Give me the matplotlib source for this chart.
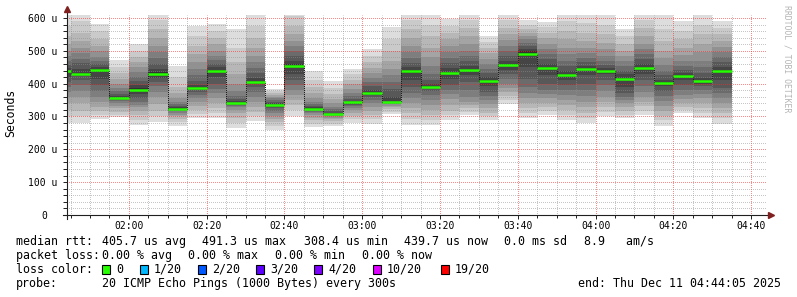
import matplotlib
matplotlib.use("Agg")
import matplotlib.pyplot as plt
import matplotlib.transforms as mtransforms
from matplotlib.patches import Rectangle

W, H = 797, 297
MONO = "DejaVu Sans Mono"

# ---- data -----------------------------------------------------------
# 5 minute slots, first one starts 01:40 (only its tail is visible)
slot_first = "01:40"
slot_len = 5
view_start = "01:44:05"
view_hours = 3

# median rtt per slot (micro seconds)
medians = [437, 430, 441, 356, 382, 430, 324, 387, 438, 341, 406, 335, 455,
           324, 308, 343, 373, 343, 437, 391, 432, 443, 407, 457, 491, 448,
           427, 445, 439, 414, 448, 402, 424, 407, 439]

# the 20 sorted pings of each slot (micro seconds), estimated from the smoke
pings = [
    [280, 300, 320, 340, 360, 375, 390, 405, 420, 434, 440, 448, 458, 470, 485, 500, 520, 545, 575, 610],
    [280, 300, 318, 340, 360, 378, 395, 412, 422, 428, 432, 445, 462, 475, 492, 510, 530, 555, 590, 640],
    [293, 305, 318, 330, 345, 360, 378, 395, 415, 436, 446, 452, 460, 470, 482, 498, 515, 535, 560, 583],
    [297, 305, 315, 325, 333, 340, 346, 350, 353, 355, 357, 362, 368, 378, 388, 400, 415, 432, 450, 473],
    [275, 290, 305, 318, 328, 336, 345, 355, 368, 378, 386, 395, 408, 420, 435, 450, 465, 482, 500, 522],
    [282, 300, 318, 338, 358, 375, 392, 405, 418, 426, 434, 445, 460, 478, 495, 515, 540, 565, 595, 630],
    [270, 282, 292, 300, 306, 312, 316, 319, 321, 323, 325, 328, 332, 338, 345, 355, 370, 390, 420, 455],
    [295, 308, 320, 332, 345, 356, 366, 374, 380, 385, 389, 396, 408, 425, 445, 465, 490, 515, 545, 577],
    [295, 310, 325, 340, 355, 370, 385, 400, 420, 434, 442, 450, 460, 472, 485, 500, 520, 540, 560, 582],
    [265, 280, 295, 310, 320, 328, 333, 336, 338, 340, 342, 346, 352, 362, 378, 400, 430, 465, 510, 565],
    [285, 300, 315, 330, 345, 360, 375, 390, 400, 404, 408, 418, 432, 448, 465, 485, 510, 540, 575, 630],
    [260, 272, 282, 292, 302, 310, 318, 325, 330, 334, 336, 340, 345, 350, 355, 360, 366, 372, 378, 384],
    [300, 320, 335, 350, 365, 380, 395, 410, 430, 450, 460, 470, 485, 500, 515, 530, 550, 575, 605, 650],
    [268, 278, 288, 296, 303, 310, 315, 319, 321, 323, 325, 328, 332, 338, 345, 355, 370, 390, 412, 437],
    [270, 278, 285, 291, 296, 300, 303, 305, 306, 307, 309, 312, 316, 322, 330, 340, 352, 368, 388, 407],
    [280, 292, 302, 312, 320, 327, 332, 336, 339, 342, 344, 348, 354, 362, 372, 385, 398, 412, 430, 446],
    [278, 292, 305, 318, 330, 340, 350, 360, 366, 371, 375, 382, 392, 405, 418, 432, 448, 465, 485, 504],
    [308, 315, 322, 328, 333, 337, 339, 340, 341, 342, 344, 360, 385, 405, 425, 445, 470, 500, 535, 573],
    [275, 292, 310, 325, 340, 355, 372, 390, 410, 433, 441, 450, 462, 478, 495, 515, 540, 565, 595, 640],
    [275, 290, 305, 320, 335, 350, 365, 378, 386, 389, 393, 400, 412, 430, 455, 480, 510, 545, 580, 620],
    [290, 305, 318, 335, 352, 368, 382, 395, 415, 428, 436, 448, 462, 478, 495, 515, 535, 555, 575, 597],
    [305, 315, 325, 335, 345, 360, 380, 405, 425, 440, 446, 455, 470, 485, 500, 520, 545, 570, 595, 620],
    [288, 300, 312, 325, 338, 350, 362, 375, 392, 404, 410, 420, 432, 445, 460, 475, 492, 510, 528, 546],
    [339, 350, 362, 375, 388, 400, 415, 428, 442, 454, 460, 470, 485, 500, 515, 532, 550, 570, 595, 630],
    [295, 310, 325, 340, 355, 370, 390, 415, 450, 485, 498, 505, 515, 525, 535, 545, 555, 565, 580, 593],
    [305, 318, 330, 342, 355, 368, 382, 400, 425, 445, 451, 460, 475, 490, 505, 520, 538, 555, 572, 587],
    [288, 305, 320, 335, 350, 365, 380, 395, 410, 424, 430, 440, 455, 470, 490, 510, 535, 560, 590, 625],
    [280, 295, 312, 328, 345, 362, 380, 400, 425, 442, 448, 455, 465, 478, 492, 510, 530, 555, 585, 620],
    [300, 315, 330, 345, 360, 378, 395, 412, 428, 437, 441, 448, 458, 470, 485, 505, 525, 550, 580, 615],
    [295, 305, 318, 330, 340, 350, 360, 372, 390, 410, 418, 428, 440, 455, 470, 485, 500, 520, 545, 567],
    [305, 318, 332, 345, 360, 375, 392, 410, 430, 445, 451, 460, 475, 490, 505, 522, 545, 570, 595, 625],
    [272, 288, 302, 318, 332, 348, 362, 378, 392, 400, 404, 412, 425, 440, 458, 478, 500, 530, 565, 615],
    [312, 320, 330, 340, 352, 365, 380, 395, 412, 422, 426, 432, 442, 455, 470, 488, 510, 535, 560, 590],
    [295, 310, 325, 340, 355, 368, 380, 392, 400, 405, 409, 418, 432, 450, 470, 495, 520, 550, 580, 620],
    [278, 295, 310, 325, 340, 355, 370, 388, 410, 436, 442, 452, 465, 480, 495, 512, 530, 550, 570, 590],
]

y_max = 609
y_ticks = [0, 100, 200, 300, 400, 500, 600]
y_labels = ["0", "100 u", "200 u", "300 u", "400 u", "500 u", "600 u"]
x_labels = ["02:00", "02:20", "02:40", "03:00", "03:20", "03:40", "04:00", "04:20", "04:40"]

rtt_label = "median rtt:"
rtt_stats = ["405.7 us avg", "491.3 us max", "308.4 us min", "439.7 us now",
             "0.0 ms sd", "8.9   am/s"]
loss_label = "packet loss:"
loss_stats = ["0.00 % avg", "0.00 % max", "0.00 % min", "0.00 % now"]
loss_names = ["0", "1/20", "2/20", "3/20", "4/20", "10/20", "19/20"]
loss_colors = ["#26ff00", "#00b8ff", "#0059ff", "#5e00ff", "#7e00ff", "#dd00ff", "#ff0000"]
probe_text = "20 ICMP Echo Pings (1000 Bytes) every 300s"
end_text = "end: Thu Dec 11 04:44:05 2025"


def minutes(s):
    parts = [int(p) for p in s.split(":")]
    return parts[0] * 60 + parts[1] + (parts[2] / 60 if len(parts) > 2 else 0)


def fx(x):
    return x / W


def fy(y):
    return 1 - y / H


t0 = minutes(view_start)
t1 = t0 + view_hours * 60
starts = [minutes(slot_first) + slot_len * i for i in range(len(medians))]

fig = plt.figure(figsize=(W / 100, H / 100), dpi=100)
fig.patch.set_facecolor("white")
ax = fig.add_axes([fx(67), 1 - 215 / H, 700 / W, 200 / H])

# smoke: pair k spans ping k .. ping 19-k, darker towards the median
half = 10
for k in range(half):
    g = int(190 / half * (half - (k + 1))) + 50
    col = "#%02x%02x%02x" % (g, g, g)
    bots = [p[k] for p in pings]
    tops = [p[19 - k] for p in pings]
    ax.bar(starts, [t - b for t, b in zip(tops, bots)], bottom=bots,
           width=slot_len, align="edge", color=col, linewidth=0,
           antialiased=False, zorder=1)

# 1px dots that start on a pixel edge
DOTS = (0.5, (1, 1))

# median: thin dark step line plus loss coloured segments
ax.step(starts + [starts[-1] + slot_len], medians + [medians[-1]], where="post",
        color="#202020", lw=0.72, ls=DOTS, zorder=3)
ax.hlines(medians, starts, [s + slot_len for s in starts], colors=loss_colors[0],
          lw=1.8, zorder=4)

ax.set_xlim(t0, t1)
ax.set_ylim(0, y_max)

major_x = [minutes(s) for s in x_labels]
ax.set_xticks(major_x)
ax.set_xticklabels(x_labels, family=MONO, fontsize=7)
ax.set_xticks([m for m in range(105, 285, 5) if m not in major_x], minor=True)
ax.set_yticks(y_ticks)
ax.set_yticklabels(y_labels, family=MONO, fontsize=7)
ax.set_yticks([v for v in range(0, 610, 20) if v not in y_ticks], minor=True)

ax.tick_params(axis="both", which="both", direction="out", color="#1f1f1f", width=0.7)
ax.tick_params(axis="x", which="major", length=3, pad=1.0)
ax.tick_params(axis="x", which="minor", length=2)
ax.tick_params(axis="y", which="major", length=3, pad=3.6)
ax.tick_params(axis="y", which="minor", length=3)

# grid on top of the smoke, as rrdtool draws it
ax.set_axisbelow(False)
ax.grid(which="minor", color="#8f8f8f", alpha=0.5, lw=0.72, ls=DOTS)
ax.grid(which="major", color="#ff2828", alpha=0.55, lw=0.72, ls=DOTS)

# "0" sits under the digits of the other labels
lab0 = ax.get_yticklabels()[0]
lab0.set_transform(lab0.get_transform() +
                   mtransforms.ScaledTranslation(-11 / 100, 0, fig.dpi_scale_trans))

for s in ["top", "right", "bottom", "left"]:
    ax.spines[s].set_visible(False)

# axis lines with arrows, reaching past the canvas like rrdtool does
ax.plot([(63 - 67) / 700, (770 - 67) / 700], [0, 0], transform=ax.transAxes,
        color="#1f1f1f", lw=0.8, clip_on=False, zorder=5)
ax.plot([0, 0], [(215 - 219) / 200, (215 - 10) / 200], transform=ax.transAxes,
        color="#1f1f1f", lw=0.8, clip_on=False, zorder=5)
ax.plot([(771 - 67) / 700], [0], transform=ax.transAxes, marker=">", ms=4,
        color="#7f1f1f", clip_on=False, zorder=6)
ax.plot([0], [(215 - 9) / 200], transform=ax.transAxes, marker="^", ms=4,
        color="#7f1f1f", clip_on=False, zorder=6)

fig.text(fx(11), fy(113), "Seconds", family=MONO, fontsize=8.3, rotation=90,
         ha="center", va="center")
fig.text(fx(787), fy(5), "RRDTOOL / TOBI OETIKER", family=MONO, fontsize=5.9,
         rotation=270, ha="center", va="top", color="#b4b4b4")

# ---- legend block -----------------------------------------------------
LS = 8.35
base = [245, 259, 273, 287]

fig.text(fx(16), fy(base[0]), rtt_label, family=MONO, fontsize=LS, va="baseline")
for x, s in zip([102, 202, 303.5, 403.5, 504.5, 583.5], rtt_stats):
    fig.text(fx(x), fy(base[0]), s, family=MONO, fontsize=LS, va="baseline")

fig.text(fx(16), fy(base[1]), loss_label, family=MONO, fontsize=LS, va="baseline")
for x, s in zip([102, 188, 275, 361.5], loss_stats):
    fig.text(fx(x), fy(base[1]), s, family=MONO, fontsize=LS, va="baseline")

fig.text(fx(16), fy(base[2]), "loss color:", family=MONO, fontsize=LS, va="baseline")
box_x = [102, 140, 198, 256, 314, 373, 441]
for x, name, c in zip(box_x, loss_names, loss_colors):
    fig.add_artist(Rectangle((fx(x), fy(base[2] + 0.5)), 8 / W, 8.5 / H,
                             transform=fig.transFigure, facecolor=c,
                             edgecolor="black", lw=0.8))
    fig.text(fx(x + 14), fy(base[2]), name, family=MONO, fontsize=LS, va="baseline")

fig.text(fx(16), fy(base[3]), "probe:", family=MONO, fontsize=LS, va="baseline")
fig.text(fx(102), fy(base[3]), probe_text, family=MONO, fontsize=LS, va="baseline")
fig.text(fx(781), fy(base[3]), end_text, family=MONO, fontsize=LS, va="baseline",
         ha="right")

fig.savefig("out.png", dpi=100, facecolor="white")
